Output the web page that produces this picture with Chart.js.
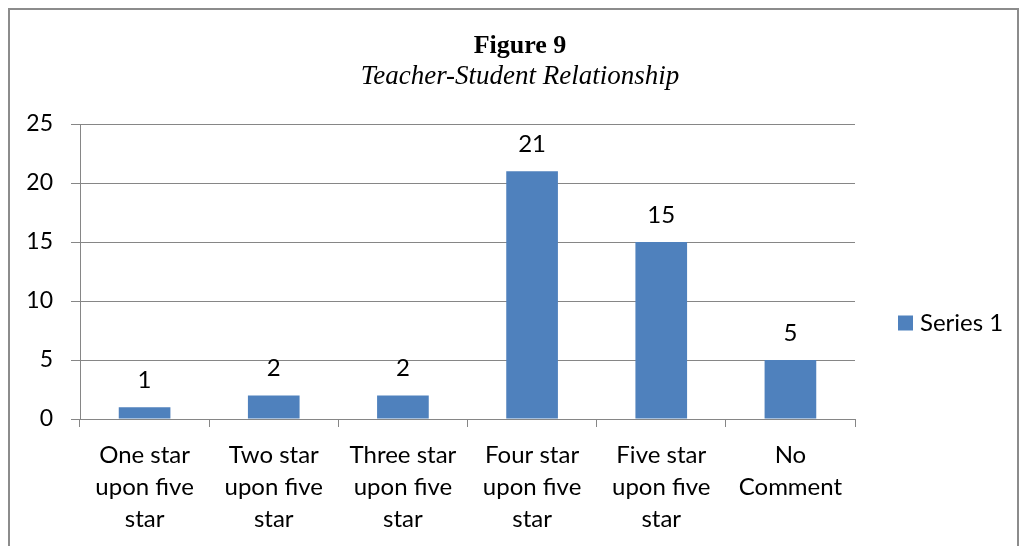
<!DOCTYPE html>
<html>
<head>
<meta charset="utf-8">
<script src="https://cdn.jsdelivr.net/npm/chart.js@4.4.1/dist/chart.umd.min.js"></script>
<style>
  html, body { margin: 0; padding: 0; background: #fff; }
  #wrap { position: relative; width: 1021px; height: 546px; overflow: hidden; }
  #frame { position: absolute; left: 8px; top: 8px; width: 1007px; height: 700px;
           border-left: 2px solid #8c8c8c; border-top: 2px solid #8c8c8c; border-right: 2px solid #8c8c8c; }
  #c { position: absolute; left: 0; top: 0; }
</style>
</head>
<body>
<div id="wrap">
  <div id="frame"></div>
  <canvas id="c" width="1021" height="546"></canvas>
</div>
<script>
// ---- data ----
const categories = [
  ["One star", "upon five", "star"],
  ["Two star", "upon five", "star"],
  ["Three star", "upon five", "star"],
  ["Four star", "upon five", "star"],
  ["Five star", "upon five", "star"],
  ["No", "Comment"]
];
const seriesName = "Series 1";
const seriesValues = [1, 2, 2, 21, 15, 5];
const yTicks = [0, 5, 10, 15, 20, 25];
const titleText = "Figure 9";
const subtitleText = "Teacher-Student Relationship";

// ---- styles ----
const SANS = "Lato, 'Open Sans', sans-serif";
const SERIF = "'Liberation Serif', 'DejaVu Serif', serif";
const BAR = "#4F81BD";
const GRID = "#868686";
const TXT = "#000000";
const TITLE_CX = 520;

const titles = {
  id: "titles",
  afterDraw(chart) {
    const ctx = chart.ctx;
    ctx.save();
    ctx.fillStyle = TXT;
    ctx.textAlign = "center";
    ctx.textBaseline = "middle";
    ctx.font = "bold 26px " + SERIF;
    ctx.fillText(titleText, TITLE_CX, 46);
    ctx.font = "italic 27px " + SERIF;
    ctx.fillText(subtitleText, TITLE_CX, 77);
    ctx.restore();
  }
};

const valueLabels = {
  id: "valueLabels",
  afterDatasetsDraw(chart) {
    const ctx = chart.ctx;
    const meta = chart.getDatasetMeta(0);
    ctx.save();
    ctx.font = "24px " + SANS;
    ctx.fillStyle = TXT;
    ctx.textAlign = "center";
    ctx.textBaseline = "middle";
    meta.data.forEach((bar, i) => {
      ctx.fillText(String(seriesValues[i]), bar.x, bar.y - 27);
    });
    ctx.restore();
  }
};

const sideLegend = {
  id: "sideLegend",
  afterDraw(chart) {
    const ctx = chart.ctx;
    const a = chart.chartArea;
    const x = a.right + 43;
    const y = 323;
    ctx.save();
    ctx.fillStyle = BAR;
    ctx.fillRect(x, y - 7.5, 15, 15);
    ctx.font = "24px " + SANS;
    ctx.fillStyle = TXT;
    ctx.textAlign = "left";
    ctx.textBaseline = "middle";
    ctx.fillText(seriesName, x + 22, y);
    ctx.restore();
  }
};

new Chart(document.getElementById("c"), {
  type: "bar",
  data: {
    labels: categories,
    datasets: [{
      label: seriesName,
      data: seriesValues,
      backgroundColor: BAR,
      borderWidth: 0,
      categoryPercentage: 1.0,
      barPercentage: 0.4
    }]
  },
  options: {
    responsive: false,
    animation: false,
    devicePixelRatio: 1,
    layout: { padding: { left: 0, right: 166, top: 124, bottom: 0 } },
    plugins: {
      legend: { display: false },
      tooltip: { enabled: false },
      title: { display: false },
      subtitle: { display: false }
    },
    scales: {
      x: {
        grid: { display: true, drawOnChartArea: false, drawTicks: true, tickLength: 8, color: GRID, lineWidth: 1, offset: true },
        border: { display: true, color: GRID, width: 1 },
        ticks: { color: TXT, font: { family: SANS, size: 24, lineHeight: "32px" }, padding: 12, maxRotation: 0, autoSkip: false },
        afterFit(s) { s.height = 127; }
      },
      y: {
        min: 0,
        max: 25,
        afterBuildTicks(s) { s.ticks = yTicks.map(v => ({ value: v })); },
        grid: { color: GRID, lineWidth: 1, drawTicks: true, tickLength: 9 },
        border: { display: true, color: GRID, width: 1 },
        ticks: { color: TXT, font: { family: SANS, size: 23 }, padding: 18 },
        afterFit(s) { s.width = 80; }
      }
    }
  },
  plugins: [titles, valueLabels, sideLegend]
});
</script>
</body>
</html>
